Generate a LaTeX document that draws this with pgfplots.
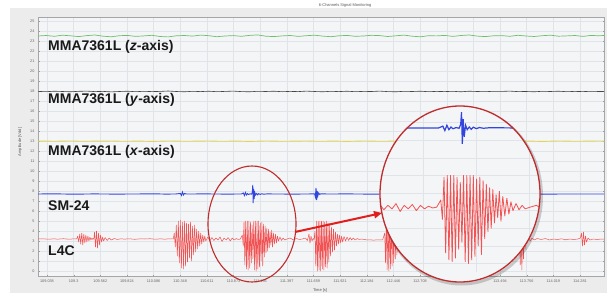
\documentclass[border=0pt]{standalone}
\usepackage{fontspec}
\setmainfont{Liberation Sans}
\usepackage{pgfplots}
\usepackage{pgfplotstable}
\pgfplotsset{compat=1.18}
\usetikzlibrary{arrows.meta}

\definecolor{panelbg}{RGB}{236,236,237}
\definecolor{plotbg}{RGB}{244,245,247}
\definecolor{gridcol}{RGB}{224,228,233}
\definecolor{cgreen}{RGB}{110,190,110}
\definecolor{cblack}{RGB}{70,70,70}
\definecolor{cyellow}{RGB}{226,212,90}
\definecolor{cblue}{RGB}{50,70,220}
\definecolor{cred}{RGB}{242,82,82}
\definecolor{ccircle}{RGB}{190,45,45}
\definecolor{carrow}{RGB}{225,30,30}
\definecolor{labelcol}{RGB}{25,25,25}

\pgfplotstableread{
t green black yellow
108.95 23.50 17.96 12.98
109.03 23.55 17.93 12.99
109.11 23.47 17.98 12.97
109.19 23.58 17.95 12.99
109.27 23.52 17.92 13.00
109.35 23.44 17.97 12.98
109.43 23.54 17.99 12.97
109.51 23.60 17.94 12.99
109.59 23.48 17.96 12.98
109.67 23.42 17.91 13.00
109.75 23.53 17.95 12.98
109.83 23.56 17.98 12.97
109.91 23.46 17.93 12.99
109.99 23.51 17.97 12.98
110.07 23.57 17.94 12.96
110.15 23.45 17.96 12.98
110.23 23.41 18.00 13.00
110.31 23.52 17.95 12.99
110.39 23.55 17.92 12.97
110.47 23.49 17.97 12.98
110.55 23.59 17.94 12.99
110.63 23.53 17.98 13.00
110.71 23.43 17.93 12.98
110.79 23.50 17.96 12.97
110.87 23.54 17.99 12.99
110.95 23.47 17.94 12.98
111.03 23.56 17.92 12.96
111.11 23.61 17.97 12.98
111.19 23.48 17.95 13.00
111.27 23.44 17.98 12.99
111.35 23.51 17.93 12.97
111.43 23.55 17.96 12.98
111.51 23.46 17.94 12.99
111.59 23.53 17.99 13.00
111.67 23.58 17.95 12.98
111.75 23.49 17.92 12.97
111.83 23.43 17.97 12.99
111.91 23.52 17.94 12.98
111.99 23.56 17.98 12.96
112.07 23.47 17.93 12.98
112.15 23.50 17.96 13.00
112.23 23.57 17.95 12.99
112.31 23.54 17.99 12.97
112.39 23.45 17.94 12.98
112.47 23.52 17.92 12.99
112.55 23.59 17.97 13.00
112.63 23.48 17.95 12.98
112.71 23.42 17.98 12.97
112.79 23.53 17.93 12.99
112.87 23.51 17.96 12.98
112.95 23.56 17.94 12.96
113.03 23.46 17.97 12.98
113.11 23.55 17.92 13.00
113.19 23.60 17.98 12.99
113.27 23.49 17.95 12.97
113.35 23.44 17.93 12.98
113.43 23.52 17.97 12.99
113.51 23.54 17.96 13.00
113.59 23.47 17.99 12.98
113.67 23.57 17.94 12.97
113.75 23.50 17.95 12.99
113.83 23.45 17.92 12.98
113.91 23.53 17.97 12.96
113.99 23.58 17.95 12.98
114.07 23.48 17.98 13.00
114.15 23.51 17.93 12.99
114.23 23.55 17.96 12.97
114.31 23.46 17.94 12.98
114.39 23.56 17.97 12.99
114.47 23.52 17.95 13.00
114.55 23.59 17.96 12.98
}\flattab

\pgfplotstableread{
t v
108.95 7.70
109.10 7.72
109.30 7.68
109.50 7.71
109.70 7.69
109.90 7.70
110.10 7.72
110.20 7.69
110.30 7.70
110.35 7.75
110.36 7.55
110.37 7.90
110.38 7.60
110.39 7.75
110.41 7.70
110.60 7.71
110.80 7.69
110.95 7.70
110.97 7.80
110.98 7.55
110.99 7.85
111.00 7.60
111.01 7.75
111.02 7.65
111.035 7.72
111.05 7.68
111.058 7.90
111.062 8.60
111.066 6.80
111.070 8.20
111.075 7.20
111.082 7.85
111.09 7.60
111.10 7.75
111.11 7.62
111.12 7.74
111.135 7.66
111.15 7.72
111.17 7.68
111.20 7.71
111.30 7.70
111.45 7.69
111.60 7.70
111.670 7.72
111.678 7.40
111.684 8.30
111.690 7.10
111.696 8.00
111.702 7.50
111.71 7.80
111.72 7.65
111.73 7.72
111.80 7.70
112.00 7.71
112.20 7.69
112.40 7.70
112.70 7.71
113.00 7.69
113.30 7.70
113.60 7.71
113.90 7.69
114.20 7.70
114.55 7.70
}\bluetab

\pgfplotstableread{
t v
108.95 3.20
109.00 3.22
109.05 3.18
109.10 3.21
109.15 3.19
109.20 3.23
109.25 3.18
109.30 3.21
109.33 3.20
109.34 3.50
109.35 2.90
109.36 3.70
109.37 2.70
109.38 3.80
109.39 2.60
109.40 3.70
109.41 2.80
109.42 3.60
109.43 2.90
109.44 3.50
109.45 3.00
109.46 3.40
109.47 3.10
109.48 3.30
109.49 3.15
109.50 3.30
109.505 3.90
109.515 2.40
109.525 4.00
109.535 2.30
109.545 3.80
109.555 2.60
109.565 3.60
109.575 2.90
109.585 3.40
109.595 3.00
109.61 3.35
109.63 3.05
109.65 3.30
109.67 3.10
109.70 3.25
109.73 3.15
109.76 3.22
109.80 3.19
109.85 3.22
109.90 3.17
109.95 3.21
110.00 3.20
110.05 3.23
110.10 3.18
110.15 3.21
110.20 3.19
110.25 3.22
110.28 3.20
110.29 3.80
110.30 2.40
110.31 4.60
110.32 1.50
110.33 5.00
110.34 0.80
110.35 5.10
110.36 0.30
110.37 4.90
110.38 0.20
110.39 5.00
110.40 0.50
110.41 4.80
110.42 0.90
110.43 4.70
110.44 1.30
110.45 4.90
110.46 1.00
110.47 4.50
110.48 1.60
110.49 4.60
110.50 1.90
110.51 4.20
110.52 2.20
110.53 4.00
110.54 2.50
110.55 3.80
110.56 2.70
110.57 3.60
110.58 2.90
110.59 3.50
110.60 3.00
110.62 3.40
110.64 3.00
110.66 3.35
110.68 3.05
110.70 3.30
110.72 3.10
110.74 3.40
110.76 2.95
110.78 3.30
110.80 3.10
110.82 3.35
110.84 3.00
110.86 3.30
110.88 3.10
110.90 3.25
110.92 3.15
110.94 3.20
110.960 3.60
110.968 2.50
110.976 4.90
110.984 0.60
110.992 5.00
111.000 0.20
111.008 5.00
111.016 0.10
111.024 5.00
111.032 0.30
111.040 4.90
111.048 0.80
111.056 4.60
111.064 1.20
111.072 5.00
111.080 0.10
111.088 5.00
111.096 0.00
111.104 5.00
111.112 0.20
111.120 5.00
111.128 0.40
111.136 4.80
111.144 1.00
111.152 4.90
111.160 0.50
111.168 4.70
111.176 1.40
111.184 4.50
111.192 1.80
111.200 4.30
111.208 2.00
111.216 4.20
111.224 2.30
111.232 3.90
111.240 2.60
111.248 4.10
111.256 2.40
111.265 3.80
111.275 2.70
111.285 3.70
111.295 2.80
111.305 3.50
111.315 3.00
111.330 3.40
111.345 3.05
111.360 3.30
111.375 3.10
111.40 3.20
111.43 3.30
111.46 3.10
111.49 3.25
111.52 3.15
111.55 3.20
111.58 3.30
111.60 3.05
111.615 3.70
111.625 2.80
111.635 3.50
111.645 3.00
111.655 3.25
111.665 3.15
111.674 4.00
111.682 0.50
111.690 5.00
111.698 0.00
111.706 5.00
111.714 0.10
111.722 5.00
111.730 0.00
111.738 5.00
111.746 0.20
111.754 5.00
111.762 0.10
111.770 4.90
111.778 0.40
111.786 5.00
111.794 0.30
111.802 4.80
111.810 0.90
111.818 4.60
111.826 1.50
111.836 4.40
111.846 1.90
111.856 4.20
111.866 2.10
111.876 3.90
111.886 2.50
111.896 3.70
111.906 2.70
111.916 3.60
111.926 2.80
111.936 3.50
111.946 2.90
111.960 3.45
111.975 3.00
111.990 3.40
112.005 3.05
112.020 3.35
112.035 3.10
112.050 3.30
112.070 3.10
112.090 3.25
112.110 3.15
112.130 3.20
112.160 3.15
112.190 3.10
112.220 3.12
112.250 3.08
112.280 3.12
112.310 3.10
112.340 3.12
112.360 3.80
112.368 0.80
112.376 5.30
112.384 0.10
112.392 5.40
112.400 0.00
112.408 5.30
112.416 0.20
112.424 5.20
112.432 0.50
112.440 5.00
112.448 0.80
112.456 4.80
112.464 1.20
112.472 4.60
112.480 1.60
112.490 4.30
112.500 2.00
112.510 4.00
112.520 2.40
112.530 3.80
112.540 2.60
112.56 3.50
112.60 3.00
112.65 3.30
112.70 3.10
112.80 3.25
112.90 3.15
113.00 3.20
113.10 3.18
113.20 3.22
113.30 3.20
113.40 3.17
113.50 3.20
113.60 3.20
113.66 3.15
113.685 3.80
113.693 0.60
113.701 4.50
113.709 0.10
113.717 4.20
113.725 1.20
113.733 3.90
113.741 2.20
113.750 3.60
113.760 2.80
113.775 3.40
113.790 3.00
113.810 3.30
113.830 3.10
113.86 3.25
113.90 3.15
113.94 3.25
113.98 3.10
114.02 3.20
114.06 3.15
114.10 3.22
114.14 3.12
114.18 3.20
114.22 3.15
114.26 3.20
114.285 3.30
114.295 3.80
114.305 2.50
114.315 3.90
114.325 2.60
114.335 3.50
114.345 2.90
114.36 3.30
114.38 3.10
114.41 3.20
114.45 3.15
114.49 3.20
114.52 3.18
}\redtab

\pgfplotsset{
  common/.style={
    scale only axis,
    anchor=south west,
    xmin=108.9495, xmax=114.517,
    ymin=-0.5, ymax=25.4,
    xtick={109.038,109.3,109.562,109.824,110.086,110.348,110.611,110.873,111.135,111.397,111.659,111.921,112.184,112.446,112.708,112.97,113.232,113.494,113.756,114.019,114.281},
    ytick={0,1,...,25},
    grid=major,
    grid style={draw=gridcol, line width=0.4pt},
    axis background/.style={fill=plotbg},
    no markers,
  }
}

\begin{document}
\begin{tikzpicture}
\fill[white] (-38pt,-19pt) rectangle (569pt,276pt);
\fill[panelbg] (-28pt,-17pt) rectangle (569pt,268pt);

\begin{axis}[common,
  at={(0pt,0pt)},
  width=566pt, height=259pt,
  xticklabels={109.038,109.3,109.562,109.824,110.086,110.348,110.611,110.873,111.135,111.397,111.659,111.921,112.184,112.446,112.708,,,113.494,113.756,114.019,114.281},
  /pgf/number format/assume math mode=true,
  tick label style={font=\fontsize{3.8}{4}\selectfont, text=black!60},
  major tick length=1.5pt,
  tick style={draw=black!40},
  axis line style={draw=black!35, line width=0.6pt},
  xlabel={Time [s]},
  ylabel={Amplitude [Vdd]},
  xlabel style={font=\fontsize{4}{5}\selectfont, text=black!65, at={(282pt,-14pt)}, anchor=center},
  ylabel style={font=\fontsize{4}{5}\selectfont, text=black!65, at={(-18pt,134pt)}, anchor=center, rotate=0},
  title={6-Channels Signal Monitoring},
  title style={font=\fontsize{4}{5}\selectfont, text=black!65, at={(307pt,265pt)}, anchor=center},
]
\addplot[cgreen, line width=0.7pt] table[x=t, y=green] {\flattab};
\addplot[cblack, line width=0.6pt] table[x=t, y=black] {\flattab};
\addplot[cyellow, line width=0.9pt] table[x=t, y=yellow] {\flattab};
\addplot[cblue, line width=0.9pt] table[x=t, y=v] {\bluetab};
\addplot[cred, line width=0.5pt, line join=round] table[x=t, y=v] {\redtab};

\node[anchor=west, inner sep=0pt, font=\fontsize{14}{16}\selectfont\bfseries, text=labelcol] at (axis cs:109.048,22.4) {MMA7361L (\textit{z}-axis)};
\node[anchor=west, inner sep=0pt, font=\fontsize{14}{16}\selectfont\bfseries, text=labelcol] at (axis cs:109.048,17.1) {MMA7361L (\textit{y}-axis)};
\node[anchor=west, inner sep=0pt, font=\fontsize{14}{16}\selectfont\bfseries, text=labelcol] at (axis cs:109.048,11.9) {MMA7361L (\textit{x}-axis)};
\node[anchor=west, inner sep=0pt, font=\fontsize{14}{16}\selectfont\bfseries, text=labelcol] at (axis cs:109.048,6.5) {SM-24};
\node[anchor=west, inner sep=0pt, font=\fontsize{14}{16}\selectfont\bfseries, text=labelcol] at (axis cs:109.048,2.0) {L4C};
\end{axis}

% small circle around the zoomed region
\draw[ccircle, line width=1.1pt] (214pt,52pt) ellipse [x radius=44pt, y radius=58pt];

% magnified view
\draw[black, opacity=0.18, line width=3pt] (423.5pt,80pt) ellipse [x radius=80pt, y radius=88pt];
\fill[plotbg] (422pt,82pt) ellipse [x radius=80pt, y radius=88pt];
\begin{scope}
\clip (422pt,82pt) ellipse [x radius=80pt, y radius=88pt];
\begin{axis}[common,
  at={(-6pt,3.78pt)},
  width=1132pt, height=455.84pt,
  xticklabels={}, yticklabels={},
  axis line style={draw=none},
  tick style={draw=none},
]
\addplot[cblue, line width=1.2pt] table[x=t, y=v] {\bluetab};
\addplot[cred, line width=0.8pt, line join=round] table[x=t, y=v] {\redtab};
\end{axis}
\end{scope}
\draw[ccircle, line width=1.3pt] (422pt,82pt) ellipse [x radius=80pt, y radius=88pt];

% arrow
\draw[carrow, line width=2pt, -{Triangle[length=8pt,width=7pt]}] (257pt,44pt) -- (344pt,63pt);

\pgfresetboundingbox
\path[use as bounding box] (-38pt,-19pt) rectangle (569pt,276pt);
\end{tikzpicture}
\end{document}
